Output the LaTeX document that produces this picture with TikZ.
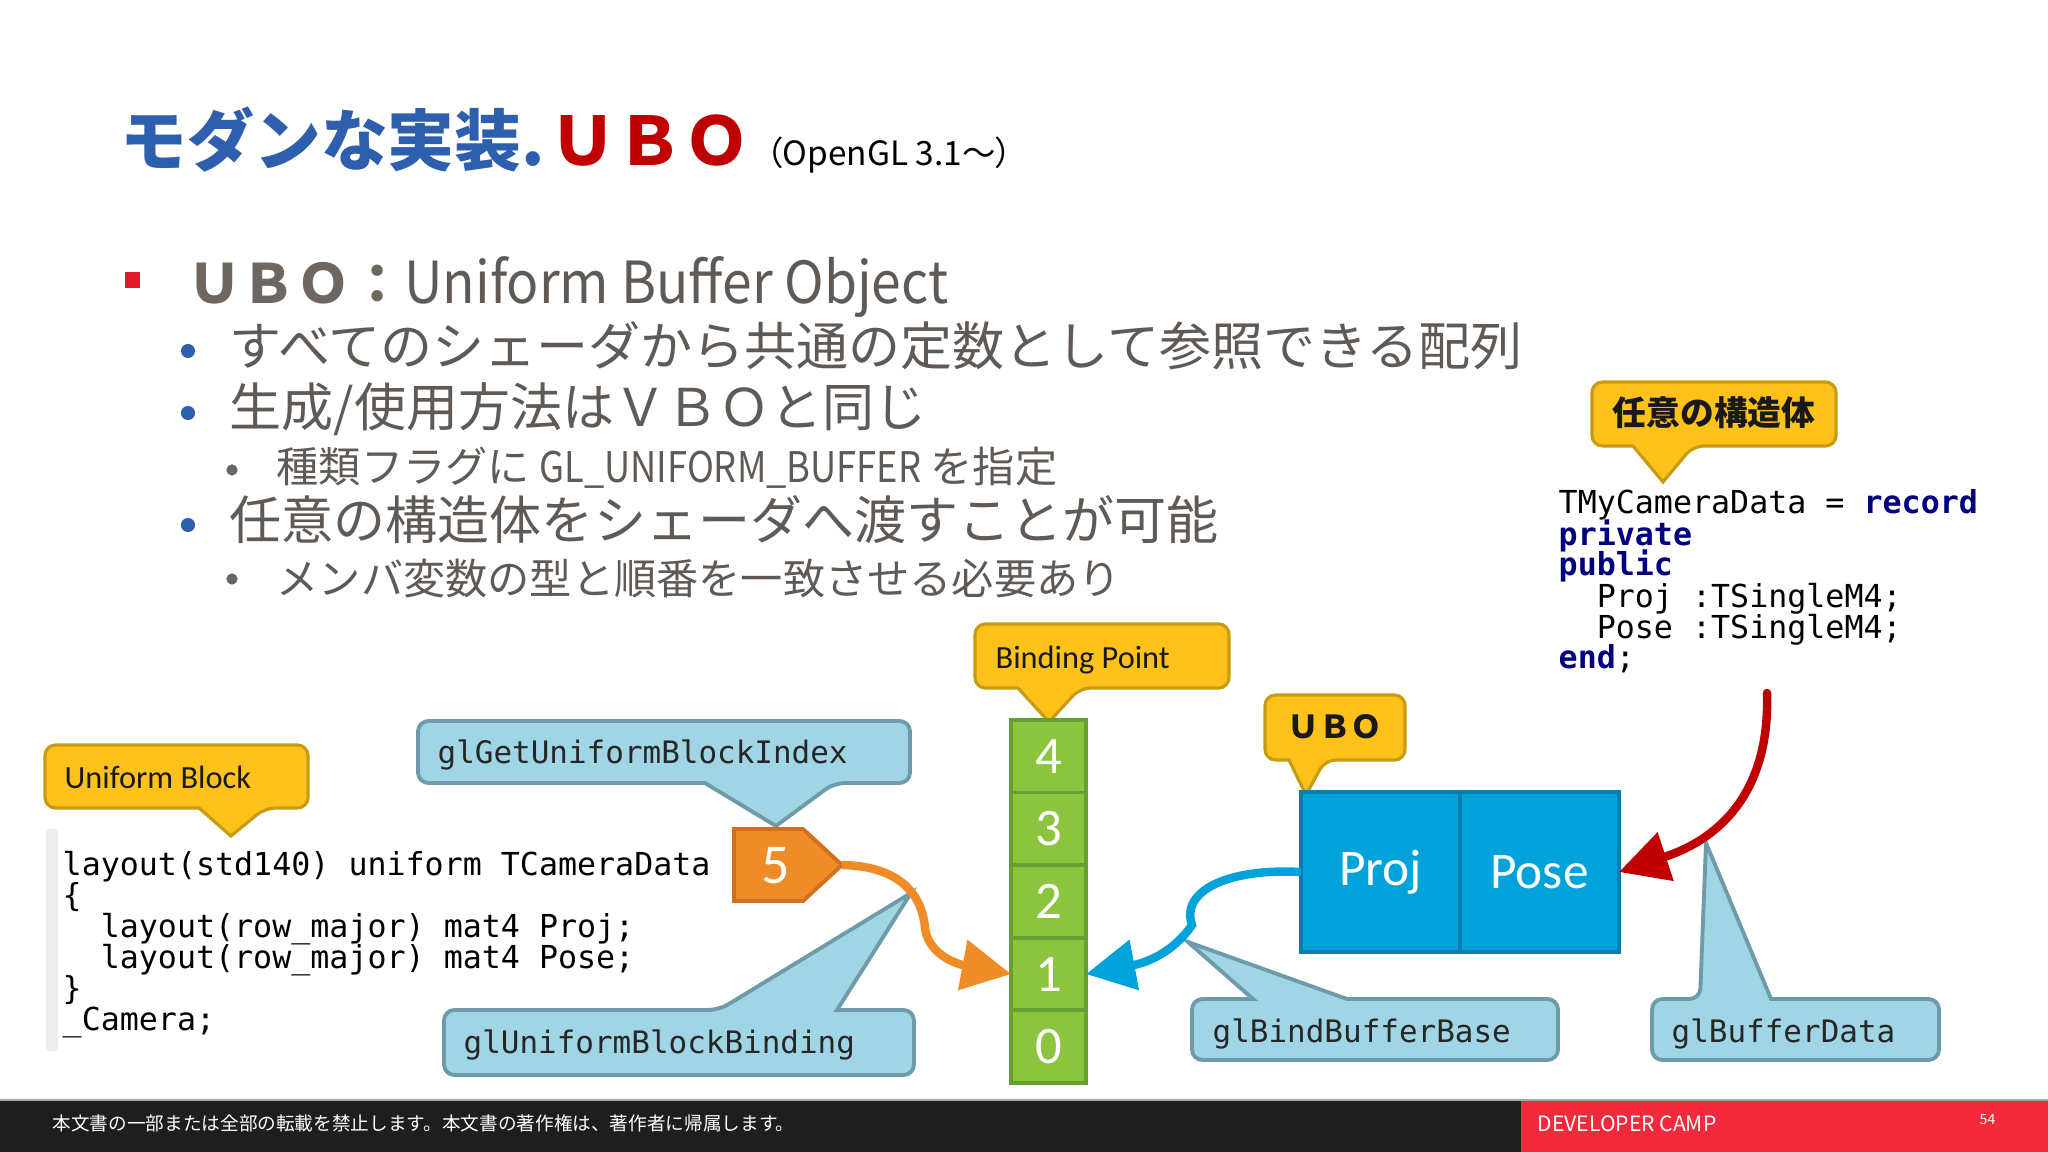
\documentclass[tikz,border=0pt]{standalone}
\usepackage{fontspec}
\usepackage{tikz}
\usetikzlibrary{calc, positioning, arrows.meta}
\usepackage{tkz-euclide}
\newfontfamily\jpfont{Noto Sans CJK JP}
\newfontfamily\jppalt{Noto Sans CJK JP}[RawFeature=+palt]
\newfontfamily\calfont{Carlito}
\newfontfamily\ttcode{DejaVu Sans Mono}
\definecolor{ttlblue}{HTML}{2E5FAF}
\definecolor{ttlred}{HTML}{C00000}
\definecolor{txtgray}{HTML}{5F5A55}
\definecolor{ubogray}{HTML}{6E675F}
\definecolor{bulred}{HTML}{E3182A}
\definecolor{dotblue}{HTML}{2E5FAF}
\definecolor{dotgray}{HTML}{6A6560}
\definecolor{ylwfill}{HTML}{FFC21A}
\definecolor{ylwline}{HTML}{C89C12}
\definecolor{lbfill}{HTML}{A0D5E5}
\definecolor{lbline}{HTML}{6E9BAA}
\definecolor{grnfill}{HTML}{8CC440}
\definecolor{grnline}{HTML}{64A032}
\definecolor{orgfill}{HTML}{F08C28}
\definecolor{orgline}{HTML}{D2701E}
\definecolor{ubofill}{HTML}{00A2DA}
\definecolor{uboline}{HTML}{0A7CAE}
\definecolor{redarrow}{HTML}{C00000}
\definecolor{kwblue}{HTML}{000080}
\definecolor{footdark}{HTML}{1E1E1E}
\definecolor{footred}{HTML}{F42A3C}
\tikzset{
        ylwcall/.style={fill=ylwfill, draw=ylwline, line width=0.9pt, rounded corners=3pt},
        bluecall/.style={fill=lbfill, draw=lbline, line width=1.1pt, rounded corners=3pt},
        calltxt/.style={anchor=base west, inner sep=0pt, text=black!90, font=\calfont\fontsize{9.2}{11}\selectfont},
        fntxt/.style={anchor=base west, inner sep=0pt, text=black!85, font=\ttcode\fontsize{8.8}{11}\selectfont},
        codeline/.style={anchor=base west, inner sep=0pt, font=\ttcode\fontsize{9}{11}\selectfont},
        bodyline/.style={anchor=base west, inner sep=0pt, text=txtgray, font=\jpfont\fontsize{14.8}{17}\selectfont},
        subline/.style={bodyline, font=\jpfont\fontsize{12}{14}\selectfont},
        bpcell/.style={fill=grnfill, draw=grnline, line width=1.1pt, outer sep=0pt, inner sep=0pt,
                minimum width=21.3pt, minimum height=20.65pt, text=white, font=\calfont\fontsize{15}{17}\selectfont},
        ubocell/.style={fill=ubofill, draw=uboline, line width=1.1pt, outer sep=0pt, inner sep=0pt,
                minimum width=45.2pt, minimum height=45.5pt, text=white, font=\calfont\fontsize{14.6}{17}\selectfont},
        bigarrow/.style={line width=2.4pt, -{Triangle[length=14pt,width=14pt]}},
        foottxt/.style={anchor=west, inner sep=0pt, text=white}
}
\begin{document}
\begin{tikzpicture}[x=0.01cm, y=-0.01cm]
                \useasboundingbox (0,0) rectangle (2048,1152);
                \fill[white] (0,0) rectangle (2048,1152);
                \node[anchor=base west, inner sep=0pt, text=ttlblue, font=\jpfont\bfseries\fontsize{19}{22}\selectfont] (ttl) at (120,166) {モダンな実装.};
                \node[base right=1pt of ttl, inner sep=0pt, text=ttlred, font=\jpfont\bfseries\fontsize{19}{22}\selectfont] (ttlubo) {ＵＢＯ};
                \node[base right=4pt of ttlubo, inner sep=0pt, font=\jppalt\fontsize{9.5}{11}\selectfont] (ttlver) {（OpenGL 3.1～）};
                \fill[bulred] (125,272) rectangle (140,288);
                \foreach \y in {351,413,525} \fill[dotblue] (188,\y) circle[radius=2pt];
                \foreach \y in {470,579} \fill[dotgray] (232,\y) circle[radius=1.6pt];
                \node[bodyline] (hdr) at (187,304) {{\bfseries\color{ubogray}\fontsize{15.4}{18}\selectfont ＵＢＯ：}{\fontsize{16.5}{19}\selectfont\scalebox{0.92}[1]{Uniform Buffer Object}}};
                \node[bodyline] (l1) at (229,366) {すべてのシェーダから共通の定数として参照できる配列};
                \node[bodyline] (l2) at (229,427) {生成/使用方法はＶＢＯと同じ};
                \node[subline] (l3) at (276,482) {種類フラグに \scalebox{0.86}[1]{GL\_UNIFORM\_BUFFER} を指定};
                \node[bodyline] (l4) at (229,540) {任意の構造体をシェーダへ渡すことが可能};
                \node[subline] (l5) at (276,594) {メンバ変数の型と順番を一致させる必要あり};
                \draw[ylwcall] (45,745) -- (308,745) -- (308,808) -- (265,808) [sharp corners] -- (231,836) -- (199,808) [rounded corners=3pt] -- (45,808) -- cycle;
                \draw[bluecall] (418,721) -- (910,721) -- (910,783) -- (834,783) [sharp corners] -- (776,826) -- (705,783) [rounded corners=3pt] -- (418,783) -- cycle;
                \draw[ylwcall] (975,624) -- (1229,624) -- (1229,688) -- (1080,688) [sharp corners] -- (1049,722) -- (1018,688) [rounded corners=3pt] -- (975,688) -- cycle;
                \draw[ylwcall] (1265,695) -- (1405,695) -- (1405,760) -- (1325,760) [sharp corners] -- (1306,795) -- (1289,760) [rounded corners=3pt] -- (1265,760) -- cycle;
                \draw[ylwcall] (1592,382) -- (1836,382) -- (1836,446) -- (1693,446) [sharp corners] -- (1663,482) -- (1633,446) [rounded corners=3pt] -- (1592,446) -- cycle;
                \draw[bluecall] (444,1010) -- (719,1010) [sharp corners] -- (911,893) -- (837,1010) [rounded corners=3pt] -- (914,1010) -- (914,1075) -- (444,1075) -- cycle;
                \draw[bluecall] (1192,999) [sharp corners] -- (1253,999) -- (1188,942) -- (1347,999) [rounded corners=3pt] -- (1558,999) -- (1558,1060) -- (1192,1060) -- cycle;
                \draw[bluecall] (1652,999) -- (1700,999) [sharp corners] -- (1706,843) -- (1771,999) [rounded corners=3pt] -- (1939,999) -- (1939,1060) -- (1652,1060) -- cycle;
                \node[calltxt] (ublk) at (64,788) {Uniform Block};
                \node[calltxt] (bpt) at (995,668) {Binding Point};
                \node[fntxt] (fnidx) at (437,763) {glGetUniformBlockIndex};
                \node[fntxt] (fnbind) at (463,1053) {glUniformBlockBinding};
                \node[fntxt] (fnbase) at (1212,1042) {glBindBufferBase};
                \node[fntxt] (fndata) at (1671,1042) {glBufferData};
                \node[inner sep=0pt, text=black!90, font=\jpfont\bfseries\fontsize{9}{11}\selectfont] (ubolbl) at (1335,727) {ＵＢＯ};
                \node[inner sep=0pt, text=black!90, font=\jpfont\bfseries\fontsize{9.6}{11}\selectfont] (structlbl) at (1714,413) {任意の構造体};
                \fill[black!7] (46,829) rectangle (58,1051);
                \foreach \t [count=\i] in {{layout(std140) uniform TCameraData}, {\{}, {\phantom{xx}layout(row\_major) mat4 Proj;},
                        {\phantom{xx}layout(row\_major) mat4 Pose;}, {\}}, {\_Camera;}}
                        \node[codeline] (lc\i) at (62,{844+31*\i}) {\t};
                \foreach \t [count=\i] in {{TMyCameraData = \textcolor{kwblue}{\bfseries record}}, {\textcolor{kwblue}{\bfseries private}},
                        {\textcolor{kwblue}{\bfseries public}}, {\phantom{xx}Proj :TSingleM4;}, {\phantom{xx}Pose :TSingleM4;},
                        {\textcolor{kwblue}{\bfseries end};}}
                        \node[codeline] (rc\i) at (1558,{483+31*\i}) {\t};
                \draw[fill=orgfill, draw=orgline, line width=1.1pt] (734,829) -- (803,829) -- (842,865) -- (803,901) -- (734,901) -- cycle;
                \node[inner sep=0pt, text=white, font=\calfont\fontsize{16}{18}\selectfont] (five) at (776,866) {5};
                \node[bpcell] (bp0) at (1048.5,1046.7) {0};
                \foreach \n [remember=\n as \m (initially 0)] in {1,...,4}
                        \node[bpcell, above=0pt of bp\m] (bp\n) {\n};
                \node[ubocell] (proj) at (1380.5,872) {Proj};
                \node[ubocell, right=0pt of proj] (pose) {Pose};
                \tkzDefPoints{842/865/fivetip, 1767/693/redtop}
                \draw[bigarrow, orgfill] (fivetip) .. controls (898,866) and (922,893) .. (925,928) .. controls (928,952) and (952,963) .. (bp1.west);
                \draw[bigarrow, ubofill] (proj.west) .. controls (1230,868) and (1180,890) .. (1192,925) .. controls (1175,950) and (1150,962) .. (bp1.east);
                \draw[bigarrow, redarrow, line cap=round] (redtop) .. controls (1770,790) and (1722,838) .. (pose.east);
                \fill[footdark] (0,1101) rectangle (1521,1152);
                \fill[footred] (1521,1101) rectangle (2048,1152);
                \draw[gray!70, line width=0.6pt] (0,1100) -- (2048,1100);
                \node[foottxt, font=\jpfont\fontsize{5.3}{6}\selectfont] (copy) at (52,1123) {本文書の一部または全部の転載を禁止します。本文書の著作権は、著作者に帰属します。};
                \node[foottxt, font=\jpfont\fontsize{6}{7}\selectfont] (camp) at (1537,1124) {DEVELOPER CAMP};
                \node[foottxt, font=\jpfont\fontsize{4}{5}\selectfont] (pgno) at (1979,1120) {54};
\end{tikzpicture}
\end{document}
